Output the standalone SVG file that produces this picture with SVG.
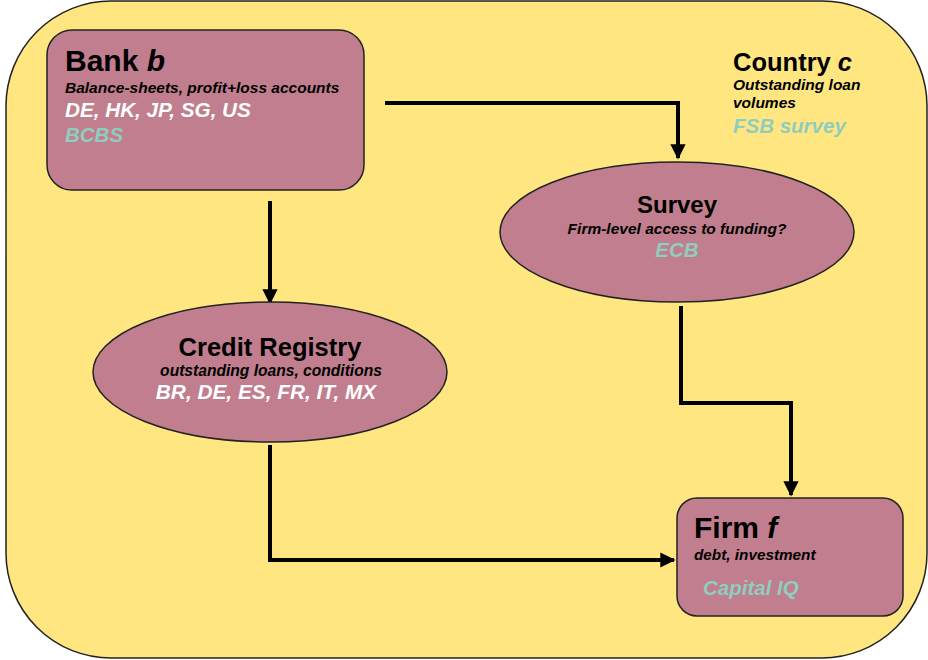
<svg xmlns="http://www.w3.org/2000/svg" width="928" height="660" viewBox="0 0 928 660">
<style>
text{font-family:"Liberation Sans",Arial,sans-serif;font-weight:bold}
.it{font-style:italic}
.box{fill:#C17E8E;stroke:#222;stroke-width:1.5}
.t{fill:#8FCDBF;font-style:italic}
.w{fill:#fff;font-style:italic}
.c{stroke:#000;stroke-width:4;fill:none}
</style>
<defs>
<marker id="ah" viewBox="0 0 10 10" refX="9" refY="5" markerWidth="3.8" markerHeight="3.8" orient="auto" markerUnits="strokeWidth">
<path d="M0,0 L10,5 L0,10 z" fill="#000"/>
</marker>
</defs>
<rect x="0" y="0" width="928" height="660" fill="#fff"/>
<rect x="6" y="1" width="921" height="657" rx="105" ry="105" fill="#FFE680" stroke="#222" stroke-width="1.5"/>
<g id="country">
<text x="733" y="71" font-size="25.5">Country <tspan class="it">c</tspan></text>
<text x="733" y="90" font-size="15.5" class="it">Outstanding loan</text>
<text x="733" y="108" font-size="15.5" class="it">volumes</text>
<text x="733" y="133" font-size="20.5" class="t">FSB survey</text>
</g>
<g id="connectors">
<path class="c" d="M385,103 H678 V158" marker-end="url(#ah)"/>
<path class="c" d="M270,201 V303" marker-end="url(#ah)"/>
<path class="c" d="M681,306 V403 H791 V495" marker-end="url(#ah)"/>
<path class="c" d="M270,445 V560 H674" marker-end="url(#ah)"/>
</g>
<g id="bank">
<rect class="box" x="47" y="30" width="317" height="160" rx="25" ry="25"/>
<text x="65" y="71" font-size="30">Bank <tspan class="it">b</tspan></text>
<text x="65" y="93" font-size="15.5" class="it">Balance-sheets, profit+loss accounts</text>
<text x="65" y="117" font-size="20.7" class="w">DE, HK, JP, SG, US</text>
<text x="65" y="142" font-size="20.5" class="t">BCBS</text>
</g>
<g id="survey">
<ellipse class="box" cx="677" cy="232" rx="177" ry="70"/>
<text x="677" y="213" font-size="24" text-anchor="middle">Survey</text>
<text x="677" y="234" font-size="15.5" class="it" text-anchor="middle">Firm-level access to funding?</text>
<text x="677" y="257" font-size="20.5" class="t" text-anchor="middle">ECB</text>
</g>
<g id="credit">
<ellipse class="box" cx="270" cy="372" rx="177" ry="70"/>
<text x="270" y="356" font-size="25.5" text-anchor="middle">Credit Registry</text>
<text x="271" y="376" font-size="15.6" class="it" text-anchor="middle">outstanding loans, conditions</text>
<text x="266" y="399" font-size="20.8" class="w" text-anchor="middle">BR, DE, ES, FR, IT, MX</text>
</g>
<g id="firm">
<rect class="box" x="677" y="498" width="226" height="118" rx="20" ry="20"/>
<text x="694" y="538" font-size="30">Firm <tspan class="it">f</tspan></text>
<text x="694" y="560" font-size="15.3" class="it">debt, investment</text>
<text x="703" y="595" font-size="20.5" class="t">Capital IQ</text>
</g>
</svg>
